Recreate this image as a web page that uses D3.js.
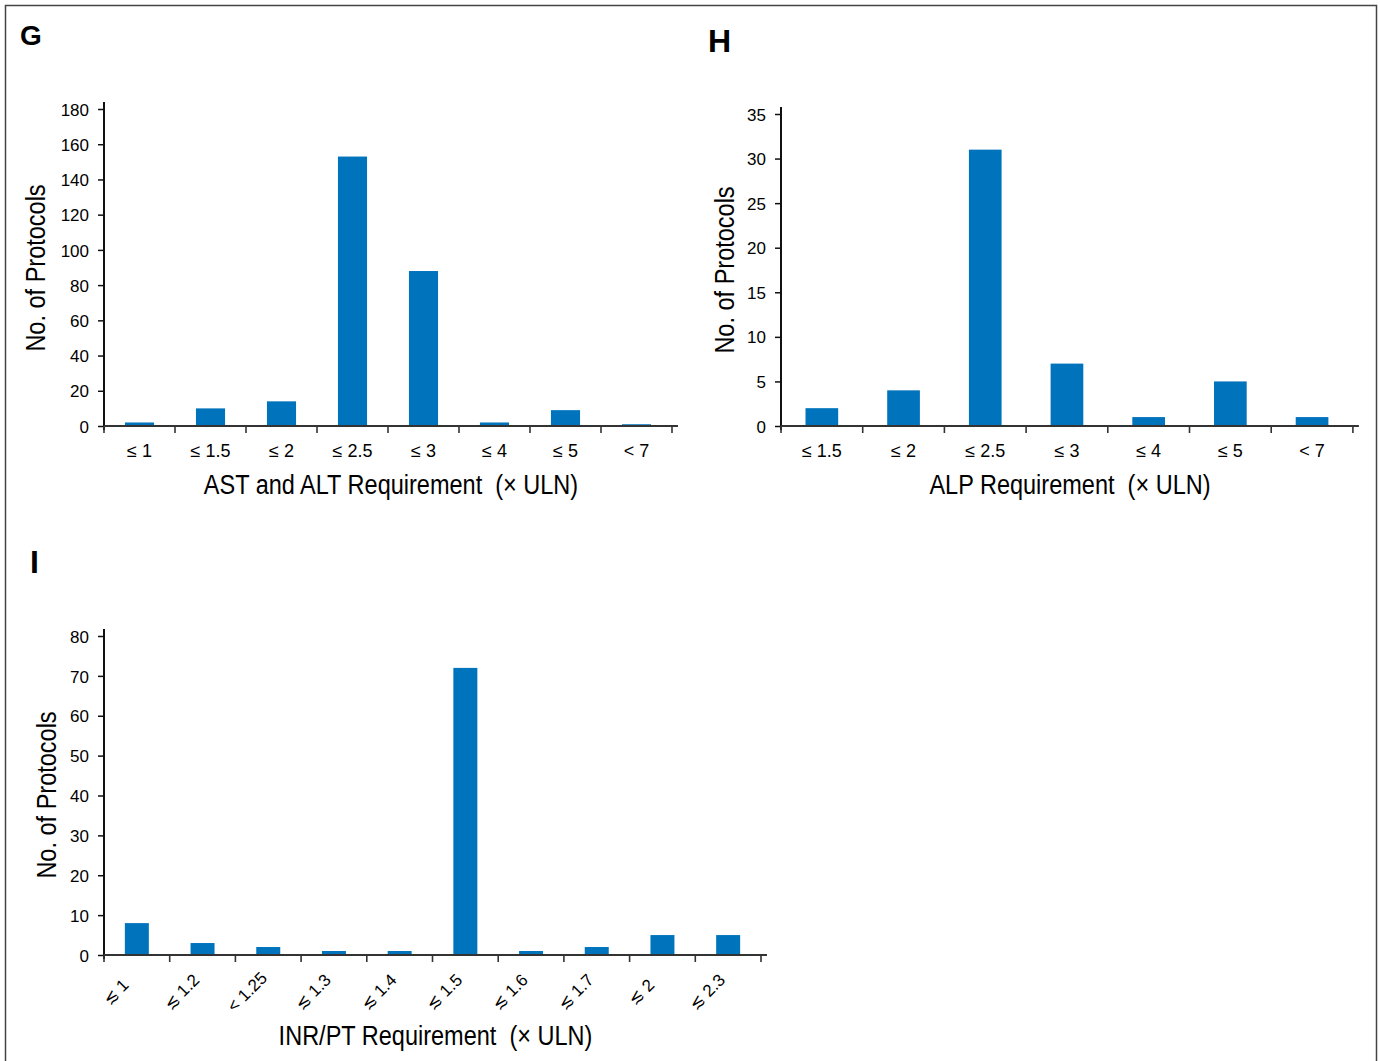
<!DOCTYPE html>
<html>
<head>
<meta charset="utf-8">
<script src="https://cdn.jsdelivr.net/npm/d3@7/dist/d3.min.js"></script>
<style>
    body { margin: 0; background: #fff; }
    svg text { fill: #000; white-space: pre; }
    .tick-lab { font-family: "Liberation Sans", Arial, sans-serif; font-size: 17px; }
    .x-lab { font-size: 18px; }
    .titre { font-family: "Liberation Sans", Arial, sans-serif; font-size: 28px; }
    .lettre { font-family: "Liberation Sans", Arial, sans-serif; font-weight: bold; }
</style>
</head>
<body>
<div id="figure"></div>
<script>

// panel G - AST / ALT
var astCategories = ["\u2264 1", "\u2264 1.5", "\u2264 2", "\u2264 2.5", "\u2264 3", "\u2264 4", "\u2264 5", "< 7"];
var astValues = [2, 10, 14, 153, 88, 2, 9, 1];
var astTicks = [0, 20, 40, 60, 80, 100, 120, 140, 160, 180];

// panel H - ALP
var alpCategories = ["\u2264 1.5", "\u2264 2", "\u2264 2.5", "\u2264 3", "\u2264 4", "\u2264 5", "< 7"];
var alpValues = [2, 4, 31, 7, 1, 5, 1];
var alpTicks = [0, 5, 10, 15, 20, 25, 30, 35];

// panel I - INR / PT
var inrCategories = ["\u2272 1", "\u2272 1.2", "< 1.25", "\u2272 1.3", "\u2272 1.4", "\u2272 1.5", "\u2272 1.6", "\u2272 1.7", "\u2272 2", "\u2272 2.3"];
var inrValues = [8, 3, 2, 1, 1, 72, 1, 2, 5, 5];
var inrTicks = [0, 10, 20, 30, 40, 50, 60, 70, 80];

var bleu = "#0073bd";
var etroit = 0.84; // police condensée simulée

var svg = d3.select("#figure").append("svg")
    .attr("width", 1380)
    .attr("height", 1061);

svg.append("rect")
    .attr("x", 5.5)
    .attr("y", 5.5)
    .attr("width", 1371)
    .attr("height", 1100)
    .style("fill", "none")
    .style("stroke", "#444")
    .style("stroke-width", 1.5);

function panneau(opts) {

    var n = opts.categories.length;

    var x = d3.scaleBand()
        .domain(opts.categories)
        .range([opts.x0, opts.x0 + n * opts.step])
        .paddingInner(opts.pad)
        .paddingOuter(opts.pad / 2);

    var y = d3.scaleLinear()
        .domain([0, d3.max(opts.ticks)])
        .range([opts.y0, opts.yTop]);

    var g = svg.append("g");

    // barres
    g.selectAll(".barre")
        .data(opts.values)
        .enter().append("rect")
        .attr("class", "barre")
        .attr("x", function(d, i) { return x(opts.categories[i]); })
        .attr("width", x.bandwidth())
        .attr("y", function(d) { return y(d); })
        .attr("height", function(d) { return y(0) - y(d); })
        .style("fill", bleu);

    // axe y
    var axeY = g.append("g")
        .attr("transform", "translate(" + opts.x0 + ",0)")
        .call(d3.axisLeft(y).tickValues(opts.ticks).tickSize(6).tickPadding(9).tickFormat(d3.format("d")));
    axeY.select(".domain").remove();
    axeY.selectAll(".tick line").style("stroke", "#111").style("stroke-width", 1.5);
    axeY.selectAll(".tick text").attr("class", "tick-lab").attr("dy", "0.36em");

    g.append("line")
        .attr("x1", opts.x0).attr("x2", opts.x0)
        .attr("y1", opts.yTop - 7).attr("y2", opts.y0 + 4)
        .style("stroke", "#111")
        .style("stroke-width", 2);

    // axe x
    var xEnd = x.range()[1];
    g.append("line")
        .attr("x1", opts.x0).attr("x2", xEnd + 6)
        .attr("y1", opts.y0).attr("y2", opts.y0)
        .style("stroke", "#333")
        .style("stroke-width", 2.2);

    for (var i = 0; i <= n; i++) {
        var tx = opts.x0 + i * x.step();
        g.append("line")
            .attr("x1", tx).attr("x2", tx)
            .attr("y1", opts.y0).attr("y2", opts.y0 + 7)
            .style("stroke", "#333")
            .style("stroke-width", 1.6);
    }

    // etiquettes x
    opts.categories.forEach(function(c) {
        var cx = x(c) + x.bandwidth() / 2;
        var t = g.append("text")
            .attr("class", "tick-lab")
            .attr("text-anchor", "middle")
            .text(c);
        if (opts.rotate) {
            t.attr("transform", "translate(" + (cx - 17) + "," + (opts.y0 + 41) + ") rotate(-45)");
        } else {
            t.classed("x-lab", true)
                .attr("x", cx)
                .attr("y", opts.y0 + 31);
        }
    });

    // titres
    g.append("text")
        .attr("class", "titre")
        .attr("text-anchor", "middle")
        .attr("transform", "translate(" + ((opts.x0 + xEnd) / 2 + 3) + "," + opts.xTitleY + ") scale(" + etroit + ",1)")
        .text(opts.xTitle);

    g.append("text")
        .attr("class", "titre")
        .attr("text-anchor", "middle")
        .attr("transform", "translate(" + opts.yTitleX + "," + opts.yTitleMid + ") rotate(-90) scale(" + etroit + ",1)")
        .text("No. of Protocols");

    g.append("text")
        .attr("class", "lettre")
        .attr("x", opts.lx)
        .attr("y", opts.ly)
        .style("font-size", opts.lsize + "px")
        .text(opts.lettre);
}

panneau({
    categories: astCategories, values: astValues, ticks: astTicks,
    x0: 104, step: 71, pad: 0.59, y0: 426, yTop: 109,
    xTitle: "AST and ALT Requirement  (\u00d7 ULN)", xTitleY: 494,
    yTitleX: 45, yTitleMid: 268,
    lettre: "G", lx: 20, ly: 45, lsize: 28
});

panneau({
    categories: alpCategories, values: alpValues, ticks: alpTicks,
    x0: 781, step: 81.7, pad: 0.6, y0: 426, yTop: 114,
    xTitle: "ALP Requirement  (\u00d7 ULN)", xTitleY: 494,
    yTitleX: 734, yTitleMid: 270,
    lettre: "H", lx: 708, ly: 52, lsize: 32
});

panneau({
    categories: inrCategories, values: inrValues, ticks: inrTicks,
    x0: 104, step: 65.7, pad: 0.635, y0: 955, yTop: 636,
    xTitle: "INR/PT Requirement  (\u00d7 ULN)", xTitleY: 1045,
    yTitleX: 56, yTitleMid: 795, rotate: true,
    lettre: "I", lx: 30, ly: 573, lsize: 32
});

</script>
</body>
</html>
